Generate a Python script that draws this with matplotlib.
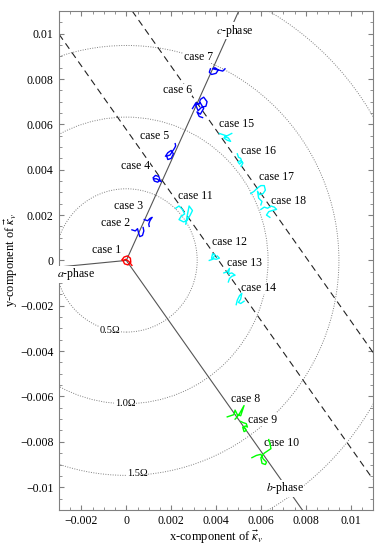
import numpy as np
import matplotlib
matplotlib.use("Agg")
import matplotlib.pyplot as plt
from matplotlib.patches import Circle
from matplotlib.ticker import MultipleLocator, FuncFormatter

plt.rcParams["font.family"] = ["Liberation Serif", "DejaVu Serif"]
plt.rcParams["mathtext.fontset"] = "stix"

# traces of each case (values in 1e-3)
case_traces = {
    1: ([-0.2, -0.1, 0.05, 0.18, 0.2, 0.08, -0.08, -0.15, -0.02, 0.12, 0.25],
        [0.02, 0.15, 0.2, 0.1, -0.08, -0.2, -0.15, 0.0, 0.05, -0.05, -0.22]),
    2: ([0.25, 0.4, 0.5, 0.55, 0.6, 0.72, 0.78, 0.75],
        [1.35, 1.3, 1.4, 1.2, 1.05, 1.1, 1.3, 1.45]),
    3: ([0.8, 0.95, 1.05, 1.15, 1.05, 1.0, 1.02],
        [1.8, 1.75, 1.85, 1.9, 1.75, 1.6, 1.5]),
    4: ([1.2, 1.3, 1.45, 1.5, 1.4, 1.25, 1.2, 1.35, 1.55],
        [3.65, 3.75, 3.7, 3.55, 3.45, 3.5, 3.6, 3.6, 3.48]),
    5: ([1.75, 1.85, 2.0, 2.1, 2.0, 1.85, 1.8, 1.95, 2.05, 2.15, 2.2, 2.18],
        [4.6, 4.75, 4.85, 4.7, 4.5, 4.45, 4.6, 4.65, 4.8, 4.95, 5.05, 5.15]),
    6: ([2.95, 3.1, 3.25, 3.3, 3.45, 3.6, 3.55, 3.35, 3.2, 3.1, 3.3, 3.45, 3.3, 3.15, 3.25, 3.4],
        [6.7, 6.95, 6.9, 7.1, 7.2, 7.0, 6.8, 6.75, 6.6, 6.85, 6.95, 6.7, 6.45, 6.55, 6.35, 6.3]),
    7: ([3.75, 3.7, 3.8, 4.0, 4.1, 3.95, 3.85, 4.1, 4.3, 4.4],
        [8.45, 8.3, 8.2, 8.25, 8.4, 8.5, 8.45, 8.4, 8.35, 8.45]),
    8: ([4.5, 4.65, 4.8, 4.85, 4.95, 5.1, 5.15, 5.25, 5.05, 4.9, 4.85],
        [-6.9, -6.85, -6.8, -6.6, -6.8, -6.85, -6.7, -6.4, -6.75, -6.95, -7.0]),
    9: ([5.1, 5.2, 5.35, 5.4, 5.3, 5.2, 5.25, 5.35, 5.3, 5.2],
        [-7.1, -7.15, -7.2, -7.35, -7.3, -7.4, -7.55, -7.5, -7.4, -7.35]),
    10: ([5.6, 5.8, 6.0, 6.1, 6.25, 6.2, 6.05, 6.0, 6.15, 6.3, 6.45, 6.4, 6.35],
         [-8.7, -8.6, -8.55, -8.75, -8.9, -9.0, -8.95, -8.7, -8.5, -8.4, -8.3, -8.05, -7.9]),
    11: ([2.2, 2.35, 2.5, 2.6, 2.45, 2.35, 2.55, 2.7, 2.85, 2.95, 2.8, 2.7, 2.65],
         [2.3, 2.4, 2.25, 2.05, 1.95, 1.8, 1.7, 1.75, 2.0, 2.2, 2.4, 1.9, 1.6]),
    12: ([3.7, 3.85, 3.95, 3.85, 3.8, 4.0, 4.15, 4.05],
         [0.0, 0.05, 0.25, 0.3, 0.1, 0.05, 0.1, 0.2]),
    13: ([4.35, 4.5, 4.6, 4.55, 4.7, 4.85, 4.7, 4.6, 4.55],
         [-0.55, -0.5, -0.35, -0.6, -0.55, -0.65, -0.7, -0.8, -0.95]),
    14: ([4.9, 4.95, 5.05, 5.15, 5.1, 5.0, 5.1, 5.25],
         [-1.95, -1.75, -1.55, -1.45, -1.7, -1.85, -1.9, -1.8]),
    15: ([4.15, 4.3, 4.45, 4.35, 4.5, 4.65, 4.55, 4.4, 4.6, 4.7],
         [5.6, 5.55, 5.5, 5.4, 5.3, 5.25, 5.4, 5.45, 5.55, 5.6]),
    16: ([4.95, 5.0, 5.1, 5.15, 5.05, 4.98, 5.1, 5.2, 5.12],
         [4.7, 4.55, 4.5, 4.35, 4.25, 4.35, 4.4, 4.3, 4.15]),
    17: ([5.55, 5.7, 5.85, 6.0, 6.15, 6.2, 6.1, 5.95, 5.85, 5.9, 6.05, 6.0],
         [2.95, 3.05, 3.2, 3.3, 3.3, 3.1, 2.95, 2.9, 3.05, 2.75, 2.6, 2.45]),
    18: ([6.0, 6.15, 6.3, 6.45, 6.6, 6.7, 6.5, 6.35, 6.25, 6.4],
         [2.25, 2.35, 2.3, 2.4, 2.35, 2.25, 2.2, 2.15, 2.0, 1.9]),
}
case_colors = {1: "red"}
case_colors.update({k: "blue" for k in range(2, 8)})
case_colors.update({k: "#00ff00" for k in range(8, 11)})
case_colors.update({k: "cyan" for k in range(11, 19)})

# label positions of the cases (1e-3)
case_label_pos = {
    1: (-0.87, 0.44), 2: (-0.5, 1.65), 3: (0.1, 2.41), 4: (0.41, 4.17),
    5: (1.24, 5.48), 6: (2.29, 7.5), 7: (3.2, 8.99), 8: (5.34, -6.1),
    9: (6.06, -7.02), 10: (6.94, -8.03), 11: (3.08, 2.85), 12: (4.58, 0.8),
    13: (5.28, -0.1), 14: (5.88, -1.2), 15: (4.93, 6.01), 16: (5.88, 4.84),
    17: (6.7, 3.67), 18: (7.24, 2.64),
}

phase_names = ["a", "b", "c"]
phase_angles = [185.5, -54.5, 65.5]
phase_label_pos = [(-2.24, -0.61), (7.06, -10.04), (4.83, 10.13)]

circle_radii = [3.16, 6.32, 9.48, 12.7]
circle_labels = ["0.5Ω", "1.0Ω", "1.5Ω", None]
circle_label_pos = [(-0.72, -3.1), (-0.05, -6.32), (0.48, -9.39), None]

dash_offsets = [3.35, 6.6]
dash_angle = -54.5

s = 1e-3

fig = plt.figure(figsize=(3.81, 5.5), dpi=100)
ax = fig.add_axes([0.155, 0.073, 0.824, 0.907])

for r, lab, pos in zip(circle_radii, circle_labels, circle_label_pos):
    ax.add_patch(Circle((0, 0), r * s, fill=False, ls=(0, (1, 1.5)), lw=0.7,
                        ec="#808080", zorder=1))
    if lab:
        ax.text(pos[0] * s, pos[1] * s, lab, fontsize=7.5, ha="center", va="center",
                bbox=dict(fc="white", ec="none", pad=0.5), zorder=2)

for name, ang, pos in zip(phase_names, phase_angles, phase_label_pos):
    t = np.deg2rad(ang)
    ax.plot([0, 0.03 * np.cos(t)], [0, 0.03 * np.sin(t)], color="#555555", lw=0.8, zorder=2)
    ax.text(pos[0] * s, pos[1] * s, "$\\mathit{%s}$-phase" % name, fontsize=8.5,
            ha="center", va="center", bbox=dict(fc="white", ec="none", pad=0.3), zorder=3)

nrm = np.deg2rad(dash_angle + 90)
for off in dash_offsets:
    p = (off * s * np.cos(nrm), off * s * np.sin(nrm))
    ax.axline(p, slope=np.tan(np.deg2rad(dash_angle)), color="#222222", lw=0.8,
              dashes=(6, 4), zorder=2)

for k, (xs, ys) in case_traces.items():
    ax.plot(np.array(xs) * s, np.array(ys) * s, color=case_colors[k], lw=1.0, zorder=5)
    lx, ly = case_label_pos[k]
    ax.text(lx * s, ly * s, "case %d" % k, fontsize=8.5, ha="center", va="center",
            bbox=dict(fc="white", ec="none", pad=0.1), zorder=4)

ax.set_xlim(-0.003, 0.011)
ax.set_ylim(-0.011, 0.011)
ax.xaxis.set_major_locator(MultipleLocator(0.002))
ax.yaxis.set_major_locator(MultipleLocator(0.002))
ax.xaxis.set_minor_locator(MultipleLocator(0.0005))
ax.yaxis.set_minor_locator(MultipleLocator(0.0005))
fmt = FuncFormatter(lambda v, p: ("%g" % round(v, 6)).replace("-", "\u2212") if abs(v) > 1e-9 else "0")
ax.xaxis.set_major_formatter(fmt)
ax.yaxis.set_major_formatter(fmt)
ax.tick_params(which="both", direction="in", top=True, right=True, color="#808080",
               labelsize=8.5, pad=4)
ax.tick_params(which="major", length=3.5)
ax.tick_params(which="minor", length=2)
for sp in ax.spines.values():
    sp.set_color("#808080")
ax.set_xlabel("x-component of $\\vec{\\kappa}_v$", fontsize=9, labelpad=1)
ax.set_ylabel("y-component of $\\vec{\\kappa}_v$", fontsize=9, labelpad=0)

fig.savefig("out.png", dpi=100)
